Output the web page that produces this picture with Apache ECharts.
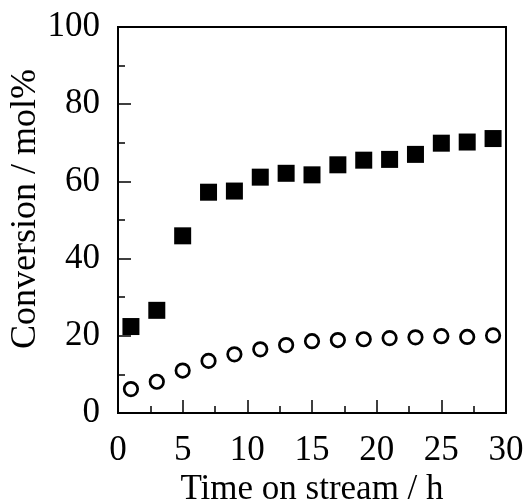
<!DOCTYPE html>
<html>
<head>
<meta charset="utf-8">
<script src="https://cdn.jsdelivr.net/npm/echarts@6/dist/echarts.min.js"></script>
<style>
  html, body { margin: 0; padding: 0; background: #fff; }
  #chart { width: 527px; height: 502px; }
</style>
</head>
<body>
<div id="chart"></div>
<script>
// time on stream (h)
var hours = [1, 3, 5, 7, 9, 11, 13, 15, 17, 19, 21, 23, 25, 27, 29];
// filled squares
var squareConv = [22.4, 26.6, 45.9, 57.2, 57.5, 61.1, 62.1, 61.7, 64.3, 65.5, 65.7, 67.0, 69.9, 70.2, 71.1];
// open circles
var circleConv = [6.2, 8.1, 11.0, 13.5, 15.2, 16.5, 17.6, 18.6, 18.9, 19.1, 19.4, 19.6, 19.9, 19.7, 20.1];

function pairs(xs, ys) {
  return xs.map(function (x, i) { return [x, ys[i]]; });
}

var font = 'Liberation Serif';
var fsize = 35;
var chart = echarts.init(document.getElementById('chart'), null, { renderer: 'canvas' });

chart.setOption({
  backgroundColor: '#fff',
  animation: false,
  grid: {
    left: 118, right: 21, top: 27, bottom: 89,
    containLabel: false, outerBoundsMode: 'none',
    show: true, borderColor: '#000', borderWidth: 2, backgroundColor: 'transparent'
  },
  xAxis: {
    type: 'value', min: 0, max: 30, interval: 5,
    name: 'Time on stream / h',
    nameLocation: 'middle', nameGap: 59, nameMoveOverlap: false,
    nameTextStyle: { fontFamily: font, fontSize: fsize, color: '#000' },
    axisLine: { lineStyle: { color: '#000', width: 2 } },
    axisTick: { inside: true, length: 13, lineStyle: { color: '#000', width: 1.5 } },
    minorTick: { show: true, splitNumber: 2, length: 7, lineStyle: { color: '#000', width: 1.5 } },
    axisLabel: { margin: 20, fontFamily: font, fontSize: fsize, color: '#000' },
    splitLine: { show: false }
  },
  yAxis: {
    type: 'value', min: 0, max: 100, interval: 20,
    name: 'Conversion / mol%',
    nameLocation: 'middle', nameGap: 74, nameMoveOverlap: false,
    nameTextStyle: { fontFamily: font, fontSize: 36, color: '#000', padding: [0, 0, 0, 22] },
    axisLine: { lineStyle: { color: '#000', width: 2 } },
    axisTick: { inside: true, length: 13, lineStyle: { color: '#000', width: 1.5 } },
    minorTick: { show: true, splitNumber: 2, length: 7, lineStyle: { color: '#000', width: 1.5 } },
    axisLabel: { margin: 18, fontFamily: font, fontSize: fsize, color: '#000' },
    splitLine: { show: false }
  },
  series: [
    {
      name: 'squares', type: 'scatter',
      data: pairs(hours, squareConv),
      symbol: 'rect', symbolSize: 17,
      itemStyle: { color: '#000', opacity: 1 }
    },
    {
      name: 'circles', type: 'scatter',
      data: pairs(hours, circleConv),
      symbol: 'circle', symbolSize: 13.5,
      itemStyle: { color: '#fff', borderColor: '#000', borderWidth: 2.7, opacity: 1 }
    }
  ]
});
</script>
</body>
</html>
